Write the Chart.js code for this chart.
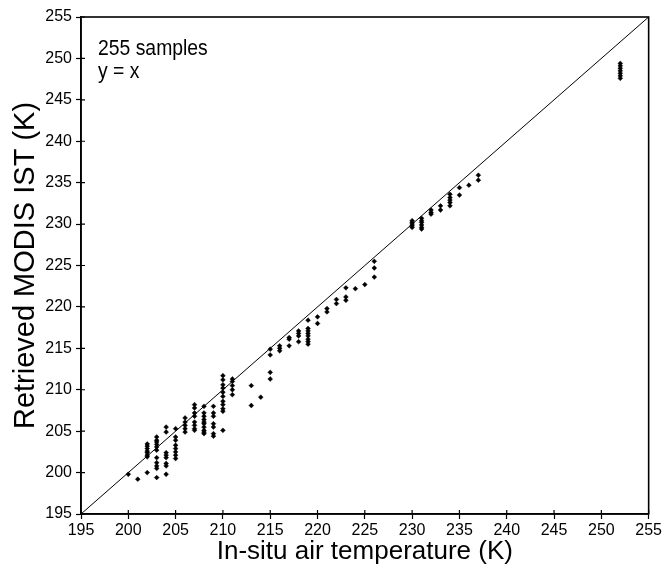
<!DOCTYPE html>
<html>
<head>
<meta charset="utf-8">
<script src="https://cdn.jsdelivr.net/npm/chart.js@4"></script>
<style>
  html, body { margin: 0; padding: 0; background: #fff; }
  #wrap { position: relative; width: 664px; height: 574px; }
  canvas { display: block; }
  .note { position: absolute; font-family: "Liberation Sans", Arial, sans-serif; font-size: 22px; line-height: 22px; color: #000; white-space: nowrap; transform: scaleX(0.88); transform-origin: 0 0; }
</style>
</head>
<body>
<div id="wrap">
  <canvas id="c" width="664" height="574"></canvas>
  <div class="note" style="left:98px; top:37px;">255 samples</div>
  <div class="note" style="left:98px; top:60px;">y = x</div>
</div>
<script>
// In-situ air temperature (K) for each sample
const insitu = [
  200, 201,
  202,202,202,202,202,202,202,202,
  203,203,203,203,203,203,203,203,203,203,203,
  204,204,204,204,204,204,204,204,
  205,205,205,205,205,205,205,205,
  206,206,206,206,206,
  207,207,207,207,207,207,207,207,
  208,208,208,208,208,208,208,208,208,208,
  209,209,209,209,209,209,209,
  210,210,210,210,210,210,210,210,210,210,210,
  211,211,211,211,211,
  213,213, 214,
  215,215,215,215,
  216,216,216,
  217,217,217,
  218,218,218,218,
  219,219,219,219,219,219,219,219,
  220,220, 221,221, 222,222,
  223,223,223, 224, 225,
  226,226,226,
  230,230,230,230,230,
  231,231,231,231,231,231,
  232,232,232, 233,233,
  234,234,234,234,234,
  235,235, 236, 237,237,
  252,252,252,252,252,252,252
];
// Retrieved MODIS IST (K) for each sample
const modis = [
  199.8, 199.2,
  200.0,203.45,203.2,202.9,202.6,202.4,202.1,201.9,
  204.3,203.9,203.7,203.4,203.1,202.7,201.8,201.2,200.8,200.5,199.4,
  205.5,204.9,202.4,202.1,201.8,201.1,200.8,199.8,
  205.3,204.3,203.9,203.3,202.9,202.5,202.1,201.7,
  206.6,206.1,205.7,205.3,204.9,
  208.2,207.8,207.2,206.8,206.1,205.7,205.3,205.1,
  208.0,207.2,206.8,206.4,206.1,205.9,205.5,205.1,204.9,204.7,
  208.0,207.2,206.8,205.9,205.5,204.7,204.4,
  211.7,211.2,210.6,210.2,209.7,209.2,208.6,208.2,207.7,207.4,205.1,
  211.3,211.0,210.5,210.0,209.4,
  210.5,208.1, 209.1,
  214.9,214.2,212.1,211.3,
  215.3,215.0,214.7,
  216.3,216.1,215.3,
  217.1,216.8,216.5,215.8,
  218.4,217.4,217.1,216.8,216.5,216.1,215.8,215.5,
  218.8,218.0, 219.8,219.4, 220.9,220.4,
  222.3,221.2,220.8, 222.2, 222.7,
  225.5,224.7,223.6,
  230.4,230.2,230.0,229.8,229.6,
  230.7,230.4,230.2,229.9,229.6,229.4,
  231.7,231.4,231.2, 232.2,231.7,
  233.6,233.2,232.9,232.6,232.2,
  234.4,233.5, 234.7, 235.9,235.3,
  249.4,249.1,248.8,248.5,248.2,247.9,247.6
];
// 1:1 reference line y = x
const lineX = [195, 255];
const lineY = [195, 255];
// Axis ranges / ticks
const axisMin = 195, axisMax = 255, tickStep = 5;

const points = insitu.map((x, i) => ({ x: x, y: modis[i] }));
const identity = lineX.map((x, i) => ({ x: x, y: lineY[i] }));

const FONT = '"Liberation Sans", Arial, sans-serif';

const frame = {
  id: 'frame',
  afterDraw(chart) {
    const { ctx, chartArea: a, scales } = chart;
    ctx.save();
    ctx.strokeStyle = '#000';
    ctx.lineWidth = 1.6;
    ctx.strokeRect(a.left, a.top, a.right - a.left, a.bottom - a.top);
    ctx.lineWidth = 1.2;
    ctx.beginPath();
    scales.x.ticks.forEach(t => {
      const px = scales.x.getPixelForValue(t.value);
      ctx.moveTo(px, a.bottom); ctx.lineTo(px, a.bottom - 4);
    });
    scales.y.ticks.forEach(t => {
      const py = scales.y.getPixelForValue(t.value);
      ctx.moveTo(a.left, py); ctx.lineTo(a.left + 4, py);
    });
    ctx.stroke();
    ctx.restore();
  }
};

new Chart(document.getElementById('c'), {
  type: 'scatter',
  data: {
    datasets: [
      {
        data: identity,
        showLine: true,
        borderColor: '#000',
        borderWidth: 1,
        pointRadius: 0,
        fill: false
      },
      {
        data: points,
        pointStyle: 'rectRot',
        pointRadius: 2.4,
        pointBackgroundColor: '#000',
        pointBorderColor: '#000',
        pointBorderWidth: 0.5
      }
    ]
  },
  options: {
    responsive: false,
    animation: false,
    devicePixelRatio: 1,
    layout: { padding: { top: 17, right: 12, left: 0, bottom: 0 } },
    plugins: { legend: { display: false }, tooltip: { enabled: false } },
    scales: {
      x: {
        type: 'linear',
        min: axisMin, max: axisMax,
        afterFit(s) { s.height = 60; },
        ticks: { stepSize: tickStep, color: '#000', font: { family: FONT, size: 16 }, padding: 2, maxRotation: 0 },
        grid: { drawOnChartArea: false, tickLength: 5, color: '#000', tickWidth: 1.2 },
        border: { display: true, color: '#000', width: 1.6 },
        title: { display: true, text: 'In-situ air temperature (K)', color: '#000',
                 font: { family: FONT, size: 26, lineHeight: 1 }, padding: { top: 0, bottom: 9 } }
      },
      y: {
        type: 'linear',
        min: axisMin, max: axisMax,
        afterFit(s) { s.width = 81; },
        ticks: { stepSize: tickStep, color: '#000', font: { family: FONT, size: 16 }, padding: 4 },
        grid: { drawOnChartArea: false, tickLength: 5, color: '#000', tickWidth: 1.2 },
        border: { display: true, color: '#000', width: 1.6 },
        title: { display: true, text: 'Retrieved MODIS IST (K)', color: '#000',
                 font: { family: FONT, size: 29, lineHeight: 1 }, padding: { top: 11, bottom: 0 } }
      }
    }
  },
  plugins: [frame]
});
</script>
</body>
</html>
